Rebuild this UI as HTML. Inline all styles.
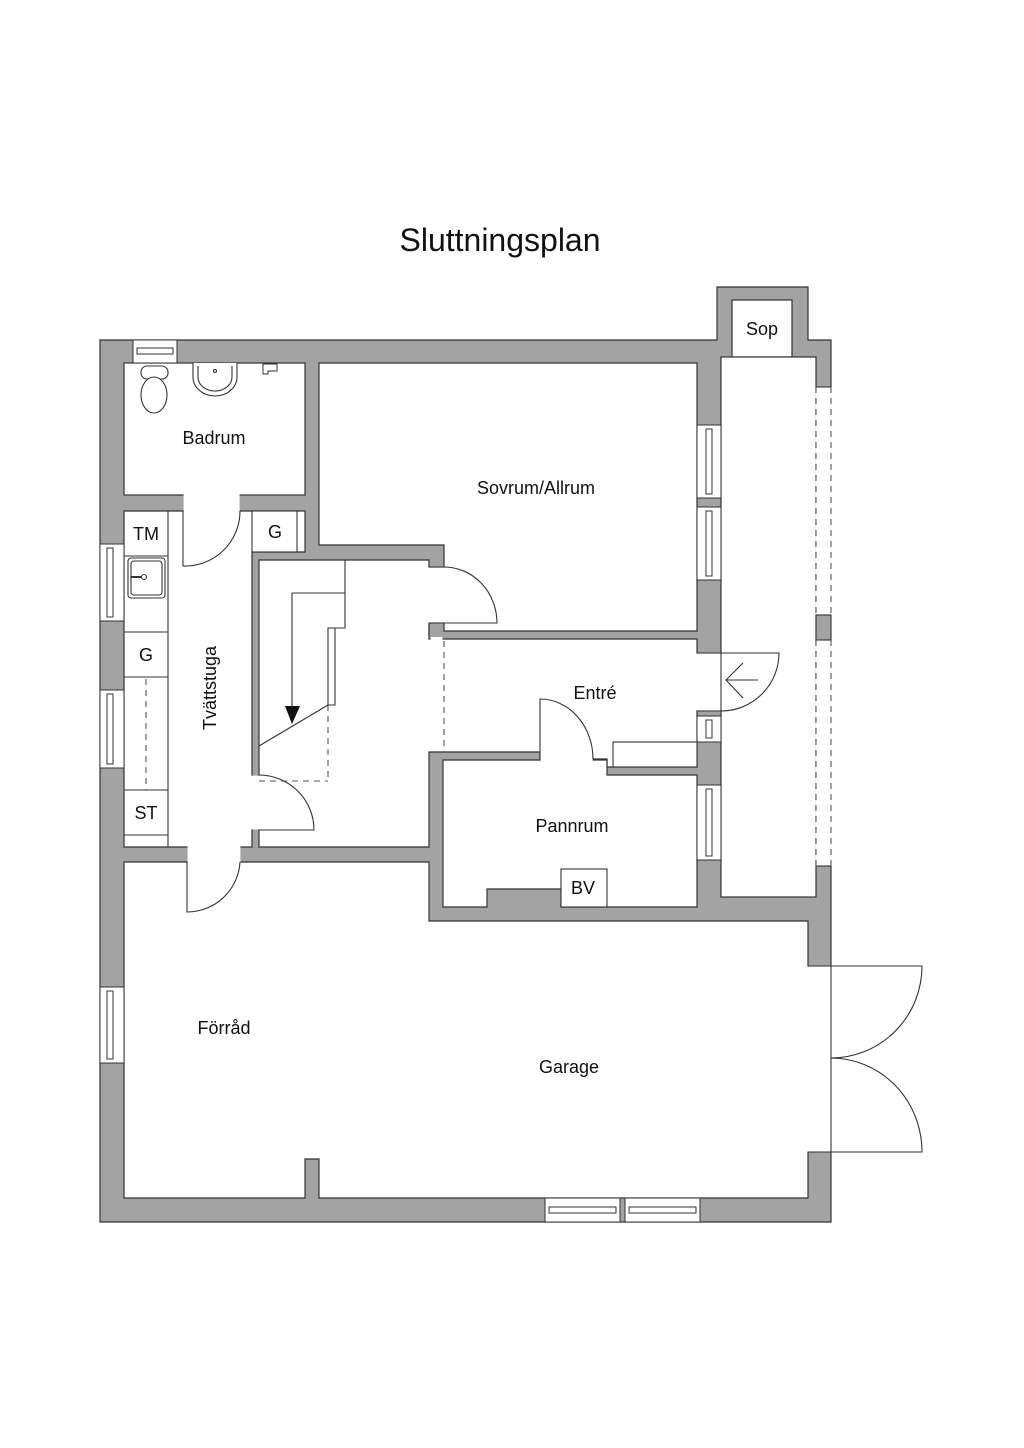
<!DOCTYPE html>
<html><head><meta charset="utf-8"><style>
html,body{margin:0;padding:0;background:#fff;}
svg{display:block}
text{font-family:"Liberation Sans",sans-serif;fill:#111}
</style></head><body>
<svg width="1024" height="1448" viewBox="0 0 1024 1448" xmlns="http://www.w3.org/2000/svg">
<rect width="1024" height="1448" fill="#fff"/>
<text x="500" y="240" font-size="32" text-anchor="middle" dominant-baseline="central">Sluttningsplan</text>

<g stroke="#333" stroke-width="1.2">
<path d="M100,340 H717 V287 H808 V340 H831 V1222 H100 Z" fill="#a3a3a3"/>
<g fill="#fff">
<rect x="124" y="363" width="181" height="132"/>
<polygon points="124,511 305,511 305,552 252,552 252,847 124,847"/>
<polygon points="319,363 697,363 697,631 444,631 444,545 319,545"/>
<polygon points="259,560 429,560 429,639 697,639 697,767 607,767 607,759 540,759 540,752 429,752 429,847 259,847"/>
<polygon points="443,760 607,760 607,775 697,775 697,907 561,907 561,889 487,889 487,907 443,907"/>
<polygon points="124,862 429,862 429,921 808,921 808,1198 319,1198 319,1159 305,1159 305,1198 124,1198"/>
<rect x="732" y="300" width="60" height="57"/>
<rect x="721" y="357" width="95" height="540"/>
</g>
</g>

<g fill="#fff">
<rect x="183.6" y="493" width="56" height="20"/>
<rect x="427" y="567.6" width="19" height="55"/>
<rect x="250" y="775.6" width="11" height="53.8"/>
<rect x="187.6" y="845" width="52.8" height="19"/>
<rect x="540.6" y="750" width="52" height="12"/>
<rect x="695" y="653.6" width="28" height="56.8"/>
<rect x="815.4" y="387" width="17" height="479"/>
<rect x="806" y="966.6" width="27" height="185"/>
<rect x="430.5" y="637" width="12" height="4"/>
</g>

<g stroke="#333" stroke-width="1.1" fill="none">
<line x1="429" y1="567" x2="444" y2="567"/>
<line x1="429" y1="623" x2="444" y2="623"/>
<line x1="429" y1="623" x2="429" y2="639"/>
<line x1="697" y1="653" x2="721" y2="653"/>
<line x1="697" y1="711" x2="721" y2="711"/>
<line x1="808" y1="966" x2="831" y2="966"/>
<line x1="808" y1="1152" x2="831" y2="1152"/>
<line x1="816" y1="387" x2="831" y2="387"/>
<line x1="816" y1="866" x2="831" y2="866"/>
<rect x="816" y="615" width="15" height="25" fill="#a3a3a3"/>
<g stroke-dasharray="6,5" stroke="#555">
<line x1="816" y1="387" x2="816" y2="615"/>
<line x1="831" y1="387" x2="831" y2="615"/>
<line x1="816" y1="640" x2="816" y2="866"/>
<line x1="831" y1="640" x2="831" y2="866"/>
<line x1="444" y1="641" x2="444" y2="752"/>
<line x1="146" y1="679" x2="146" y2="790"/>
<line x1="328" y1="705" x2="328" y2="781"/>
<line x1="259" y1="781" x2="328" y2="781"/>
</g>

<path d="M183,511 V566 A55,55 0 0 0 240,511"/>
<path d="M444,567 A53,56 0 0 1 497,623 H444"/>
<path d="M259,775 A55,55 0 0 1 314,830 H259"/>
<path d="M187,862 V912 A53,53 0 0 0 240,862"/>
<path d="M540,759 V699 A53,60 0 0 1 593,759"/>
<line x1="721" y1="653" x2="721" y2="711"/>
<path d="M721,653 H779 A58,58 0 0 1 721,711"/>
<path d="M758,680 H726 M743,663 L726,680 L743,698"/>
<line x1="831" y1="966" x2="831" y2="1152"/>
<path d="M831,966 H922 A91,92 0 0 1 831,1058"/>
<path d="M831,1152 H922 A91,94 0 0 0 831,1058"/>

<path d="M345,560 V628 H335 V705 H328 V628 H345"/>
<path d="M292,593 H345"/>
<line x1="292" y1="593" x2="292" y2="712"/>
<line x1="328" y1="705" x2="259" y2="746"/>

<line x1="168" y1="511" x2="168" y2="847"/>
<line x1="124" y1="556" x2="168" y2="556"/>
<line x1="124" y1="632" x2="168" y2="632"/>
<line x1="124" y1="677" x2="168" y2="677"/>
<line x1="124" y1="790" x2="168" y2="790"/>
<line x1="124" y1="835" x2="168" y2="835"/>
<rect x="128" y="558" width="37" height="40" rx="3"/>
<rect x="131" y="561" width="31" height="34" rx="3"/>
<circle cx="144" cy="577" r="2.5"/>
<line x1="131" y1="577" x2="141" y2="577" stroke-width="2"/>
<rect x="252" y="511" width="45" height="41" fill="#fff"/>
<rect x="613" y="742" width="84" height="25" fill="#fff"/>
<rect x="561" y="869" width="46" height="38" fill="#fff"/>

<rect x="141" y="366" width="27" height="13" rx="6" fill="#fff"/>
<ellipse cx="154" cy="395" rx="13" ry="18" fill="#fff"/>
<path d="M193,363 V377 A22,19 0 0 0 237,377 V363" fill="#fff"/>
<path d="M198,366 V377 A17,14 0 0 0 232,377 V366" fill="#fff"/>
<circle cx="215" cy="371" r="1.5"/>
<path d="M263,364 H277 V371 H268 V374 H263 Z" stroke-width="1"/>
</g>

<g stroke="#333" stroke-width="1" fill="#fff">
<rect x="100" y="544" width="24" height="77"/><rect x="107" y="548" width="6" height="69"/>
<rect x="100" y="690" width="24" height="78"/><rect x="107" y="694" width="6" height="70"/>
<rect x="100" y="987" width="24" height="76"/><rect x="107" y="991" width="6" height="68"/>
<rect x="697" y="425" width="24" height="73"/><rect x="706" y="429" width="6" height="65"/>
<rect x="697" y="507" width="24" height="73"/><rect x="706" y="511" width="6" height="65"/>
<rect x="697" y="716" width="24" height="26"/><rect x="706" y="720" width="6" height="18"/>
<rect x="697" y="785" width="24" height="75"/><rect x="706" y="789" width="6" height="67"/>
<rect x="133" y="340" width="44" height="23"/><rect x="137" y="348" width="36" height="6"/>
<rect x="545" y="1198" width="75" height="24"/><rect x="549" y="1207" width="67" height="6"/>
<rect x="625" y="1198" width="75" height="24"/><rect x="629" y="1207" width="67" height="6"/>
</g>

<polygon points="285,706 300,706 292,724" fill="#111"/>

<g font-size="18" text-anchor="middle" dominant-baseline="central">
<text x="214" y="438">Badrum</text>
<text x="536" y="488">Sovrum/Allrum</text>
<text x="595" y="693">Entré</text>
<text x="572" y="826">Pannrum</text>
<text x="583" y="888">BV</text>
<text x="762" y="329">Sop</text>
<text x="224" y="1028">Förråd</text>
<text x="569" y="1067">Garage</text>
<text x="146" y="534">TM</text>
<text x="146" y="655">G</text>
<text x="146" y="813">ST</text>
<text x="275" y="532">G</text>
<text x="210" y="688" transform="rotate(-90 210 688)">Tvättstuga</text>
</g>
</svg>
</body></html>
